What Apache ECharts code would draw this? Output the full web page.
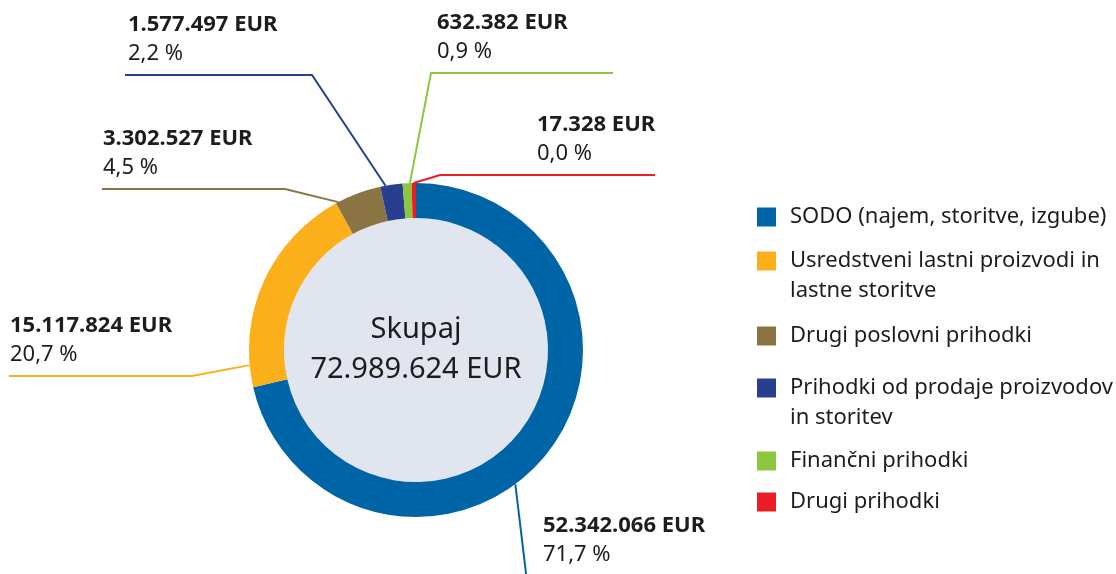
<!DOCTYPE html>
<html>
<head>
<meta charset="utf-8">
<script src="https://cdn.jsdelivr.net/npm/echarts@6/dist/echarts.min.js"></script>
<style>
  html, body { margin: 0; padding: 0; background: #fff; }
  #chart { width: 1116px; height: 574px; }
</style>
</head>
<body>
<div id="chart"></div>
<script>
// podatki
const categories = [
  'SODO (najem, storitve, izgube)',
  'Usredstveni lastni proizvodi in lastne storitve',
  'Drugi poslovni prihodki',
  'Prihodki od prodaje proizvodov in storitev',
  'Finančni prihodki',
  'Drugi prihodki'
]
const values = [52342066, 15117824, 3302527, 1577497, 632382, 17328]
const legendLines = [
  ['SODO (najem, storitve, izgube)'],
  ['Usredstveni lastni proizvodi in', 'lastne storitve'],
  ['Drugi poslovni prihodki'],
  ['Prihodki od prodaje proizvodov', 'in storitev'],
  ['Finančni prihodki'],
  ['Drugi prihodki']
]
const colors = ['#0065a6', '#fbb01b', '#8b7443', '#283f8f', '#8dc63f', '#ec1c24']

// postavitev oznak (besedilo + lomljena črta), kot sidra v stopinjah od vrha
const labelSpots = [
  { angle: 143.5, tx: 543, ty: 569, line: [[528, 590]] },
  { angle: 264.8, tx: 10, ty: 369, line: [[192, 376], [9, 376]] },
  { angle: 332.3, tx: 103, ty: 182, line: [[285, 189], [102, 189]] },
  { angle: 349.5, tx: 128, ty: 68, line: [[312, 75], [125, 75]] },
  { angle: 357.9, tx: 437, ty: 66, line: [[431, 73], [613, 73]] },
  { angle: 359.2, tx: 537, ty: 168, line: [[440, 175], [655, 175]] }
]
const legendTops = [202, 216, 321, 343, 446, 487]

const center = [416, 350]
const outerR = 167
const innerR = 132
const font = 'Noto Sans'
const textColor = '#1d1d1b'
const total = values.reduce((a, b) => a + b, 0)

const fmt = v => String(v).replace(/\B(?=(\d{3})+(?!\d))/g, '.')
const pct = v => (v / total * 100).toFixed(1).replace('.', ',') + ' %'

const chart = echarts.init(document.getElementById('chart'))

const option = {
  animation: false,
  legend: categories.map((name, i) => ({
    data: [name],
    orient: 'vertical',
    left: 757,
    top: legendTops[i],
    padding: 0,
    icon: 'rect',
    itemWidth: 19,
    itemHeight: 19,
    selectedMode: false,
    // prazna prva vrstica, da je ikona poravnana s prvo vrstico besedila
    formatter: () => (legendLines[i].length > 1 ? '\n' : '') + legendLines[i].join('\n'),
    textStyle: {
      fontFamily: font,
      fontSize: 22,
      color: textColor,
      lineHeight: 30,
      padding: [0, 0, 0, 9]
    }
  })),
  series: [
    {
      type: 'pie',
      silent: true,
      center: center,
      radius: [0, innerR],
      z: 1,
      itemStyle: { color: '#e1e5ef' },
      label: {
        show: true,
        position: 'center',
        formatter: () => 'Skupaj\n' + fmt(total) + ' EUR',
        fontFamily: font,
        fontSize: 29,
        lineHeight: 40,
        color: textColor
      },
      labelLine: { show: false },
      data: [{ name: 'Skupaj', value: total }]
    },
    {
      type: 'pie',
      center: center,
      radius: [innerR, outerR],
      startAngle: 90,
      clockwise: true,
      minAngle: 1.5,
      avoidLabelOverlap: false,
      z: 2,
      emphasis: { disabled: true },
      data: categories.map((name, i) => ({
        name,
        value: values[i],
        itemStyle: { color: colors[i] }
      })),
      label: {
        show: true,
        formatter: p => `{v|${fmt(p.value)} EUR}\n{p|${pct(p.value)}}`,
        rich: {
          v: { fontFamily: font, fontSize: 22, fontWeight: 'bold', lineHeight: 29, color: textColor },
          p: { fontFamily: font, fontSize: 22, lineHeight: 29, color: textColor }
        }
      },
      labelLine: { show: true, lineStyle: { width: 2 } },
      labelLayout: params => {
        const s = labelSpots[params.dataIndex]
        const a = s.angle * Math.PI / 180
        const start = [center[0] + outerR * Math.sin(a), center[1] - outerR * Math.cos(a)]
        return {
          x: s.tx,
          y: s.ty,
          align: 'left',
          verticalAlign: 'bottom',
          labelLinePoints: [start].concat(s.line)
        }
      }
    }
  ]
}

chart.setOption(option)
</script>
</body>
</html>
